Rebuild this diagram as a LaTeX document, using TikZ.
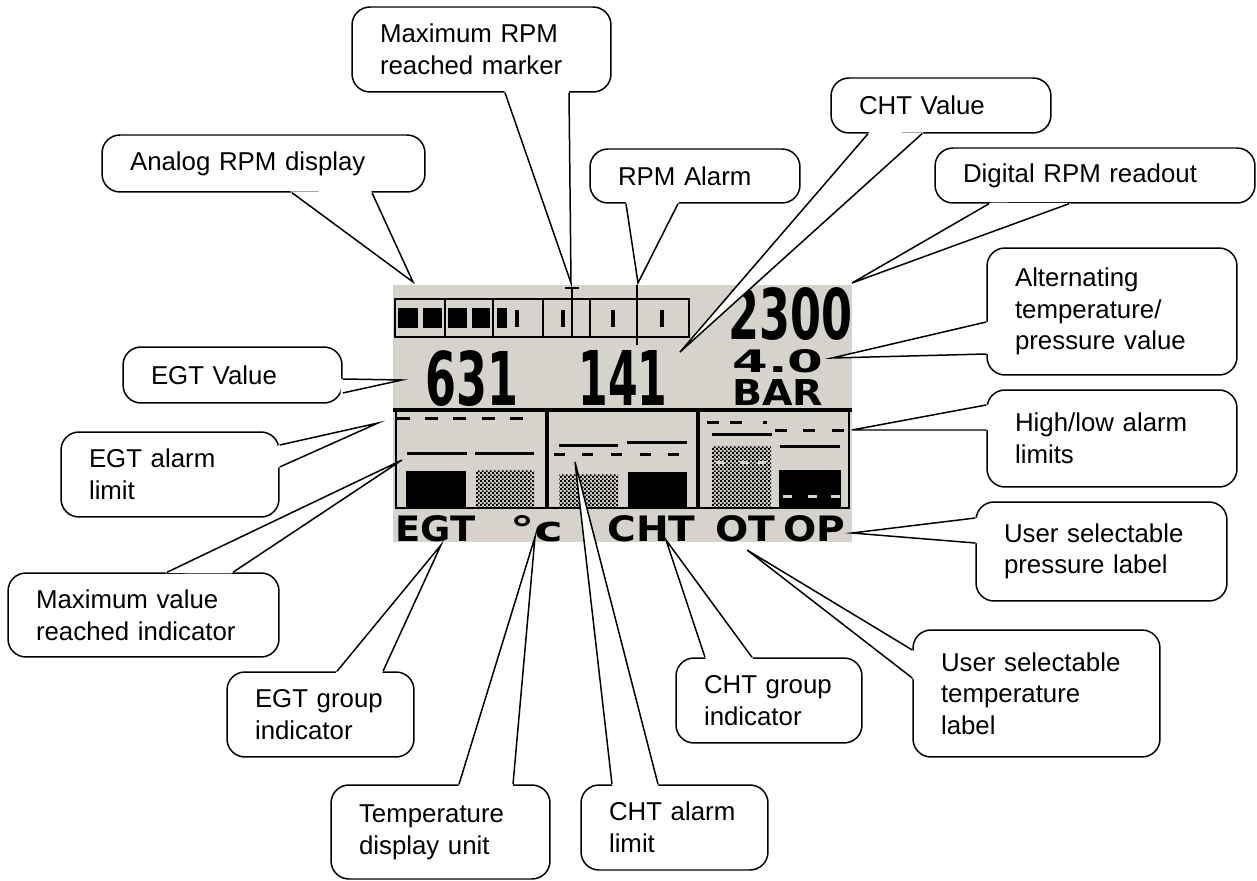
\documentclass[tikz,border=0pt]{standalone}
\usepackage{fontspec}
\usepackage{graphicx}
\setmainfont{Liberation Sans}
\newfontfamily\lcdfont{DejaVu Sans}
\usetikzlibrary{calc, patterns}

\definecolor{lcdgrey}{RGB}{214,211,204}

\pgfdeclarepatternformonly{lcdcheck}{\pgfpointorigin}{\pgfqpoint{2.4pt}{2.4pt}}{\pgfqpoint{2.4pt}{2.4pt}}{%
  \pgfpathrectangle{\pgfpointorigin}{\pgfqpoint{1.2pt}{1.2pt}}%
  \pgfpathrectangle{\pgfqpoint{1.2pt}{1.2pt}}{\pgfqpoint{1.2pt}{1.2pt}}%
  \pgfusepath{fill}}

\newcommand{\lcdtext}[3]{\resizebox{#1}{#2}{\lcdfont\bfseries #3}}
\newcommand{\calltail}[3]{%
  \fill[white] ($(#1)!-1.2pt!(#2)$) -- (#2) -- ($(#3)!-1.2pt!(#2)$) -- cycle;
  \draw[line width=0.85pt] (#1) -- (#2) -- (#3);}

\begin{document}
\begin{tikzpicture}[x=0.02cm, y=-0.02cm,
    bubble/.style={draw, line width=0.85pt, fill=white, rounded corners=0.36cm,
      inner xsep=0.56cm, inner ysep=0pt, align=left,
      font=\fontsize{14.7}{18}\selectfont},
    lcd/.style={line width=1.5pt},
    lcdtxt/.style={anchor=north west, inner sep=0pt}]
    \def\top{285}
    \def\bot{542}

    \useasboundingbox (0,0) rectangle (1257,881);

    % LCD screen
    \fill[lcdgrey] (393,\top) rectangle (852,\bot);

    \draw[lcd] (395,299) rectangle (689,337);
    \foreach \x in {445,493,543,590} \draw[lcd] (\x,299) -- (\x,337);
    \draw[lcd] (637,\top) -- (637,345);
    \draw[lcd] (565,288) -- (579,288);
    \draw[lcd] (572,288) -- (572,337);
    \foreach \a/\b in {398/418, 423/442, 448/467, 472/490, 497/507}
        \fill (\a,308) rectangle (\b,328);
    \foreach \x in {517,563,613,662} \fill (\x-2,310) rectangle (\x+2,327);

    \node[lcdtxt] (egtnum) at (425,350) {\lcdtext{1.86cm}{1.10cm}{631}};
    \node[lcdtxt] (chtnum) at (578,350) {\lcdtext{1.78cm}{1.10cm}{141}};
    \node[lcdtxt] (rpmnum) at (728,287) {\lcdtext{2.48cm}{1.04cm}{2300}};
    \node[lcdtxt] (presnum) at (732,349) {\lcdtext{1.82cm}{0.46cm}{4.0}};
    \node[lcdtxt] (presunit) at (732,379) {\lcdtext{1.82cm}{0.52cm}{BAR}};

    \fill (393,408) rectangle (852,412);
    \draw[lcd] (396,410) -- (396,508) -- (849,508) -- (849,410);
    \fill (545,410) rectangle (549,508);
    \fill (696,410) rectangle (700,508);

    % EGT bars
    \foreach \a in {397,425,453,482,510} \fill (\a,417) rectangle (\a+13,420);
    \fill (407,452) rectangle (467,455);
    \fill (475,452) rectangle (534,455);
    \fill (406,471) rectangle (466,508);
    \fill[pattern=lcdcheck] (476,471) rectangle (534,508);

    % CHT bars
    \fill (559,444) rectangle (618,447);
    \fill (627,441) rectangle (687,444);
    \foreach \a in {554,582,611,640,668} \fill (\a,453) rectangle (\a+11,456);
    \fill[pattern=lcdcheck] (559,475) rectangle (618,508);
    \fill (628,472) rectangle (687,508);

    % OT / OP bars
    \foreach \a in {707,730} \fill (\a,421) rectangle (\a+12,424);
    \fill (763,421) rectangle (767,424);
    \foreach \a in {775,803,832} \fill (\a,429) rectangle (\a+12,432);
    \fill (712,433) rectangle (772,436);
    \fill (780,445) rectangle (840,448);
    \fill[pattern=lcdcheck] (712,447) rectangle (771,508);
    \foreach \a in {716,740,758} \fill[lcdgrey] (\a,461) rectangle (\a+8,464);
    \fill (779,470) rectangle (841,508);
    \foreach \a in {783,808,831} \fill[lcdgrey] (\a,495) rectangle (\a+9,498);

    \node[lcdtxt] (egtlbl) at (395,515) {\lcdtext{1.60cm}{0.52cm}{EGT}};
    \node[lcdtxt] (unitlbl) at (510,515) {\lcdtext{1.06cm}{0.52cm}{°c}};
    \node[lcdtxt] (chtlbl) at (607,515) {\lcdtext{1.76cm}{0.52cm}{CHT}};
    \node[lcdtxt] (otlbl) at (715,515) {\lcdtext{1.20cm}{0.52cm}{OT}};
    \node[lcdtxt] (oplbl) at (783,515) {\lcdtext{1.24cm}{0.52cm}{OP}};

    % callouts
    \node[bubble, text width=5.34cm, minimum height=1.14cm] (analog) at (263.5,163.5) {Analog RPM display};
    \coordinate (analogA) at (analog.south -| 292,0);
    \coordinate (analogB) at (analog.south -| 372,0);
    \coordinate (analogtip) at (413,282);
    \calltail{analogA}{analogtip}{analogB}

    \node[bubble, text width=4.06cm, minimum height=1.70cm] (maxrpm) at (481.5,49.5) {Maximum RPM\\reached marker};
    \coordinate (maxrpmA) at (maxrpm.south -| 505,0);
    \coordinate (maxrpmB) at (maxrpm.south -| 569,0);
    \coordinate (maxrpmtip) at (571,283);
    \calltail{maxrpmA}{maxrpmtip}{maxrpmB}

    \node[bubble, text width=3.08cm, minimum height=1.08cm] (rpmalarm) at (695,176) {RPM Alarm};
    \coordinate (rpmalarmA) at (rpmalarm.south -| 626,0);
    \coordinate (rpmalarmB) at (rpmalarm.south -| 678,0);
    \coordinate (rpmalarmtip) at (638,283);
    \calltail{rpmalarmA}{rpmalarmtip}{rpmalarmB}

    \node[bubble, text width=3.28cm, minimum height=1.10cm] (chtval) at (941,105.5) {CHT Value};
    \coordinate (chtvalA) at (chtval.south -| 868,0);
    \coordinate (chtvalB) at (chtval.south -| 922,0);
    \coordinate (chtvaltip) at (680,352);
    \calltail{chtvalA}{chtvaltip}{chtvalB}

    \node[bubble, text width=5.28cm, minimum height=1.10cm] (digital) at (1095,175.5) {Digital RPM readout};
    \coordinate (digitalA) at (digital.south -| 989,0);
    \coordinate (digitalB) at (digital.south -| 1069,0);
    \coordinate (digitaltip) at (852,283);
    \calltail{digitalA}{digitaltip}{digitalB}

    \node[bubble, text width=3.88cm, minimum height=2.54cm] (altern) at (1112,311.5) {Alternating\\temperature/\\pressure value};
    \coordinate (alternA) at (altern.west |- 0,322);
    \coordinate (alternB) at (altern.west |- 0,354);
    \coordinate (alterntip) at (832,358);
    \calltail{alternA}{alterntip}{alternB}

    \node[bubble, text width=3.88cm, minimum height=1.94cm] (highlow) at (1112,438.5) {High/low alarm\\limits};
    \coordinate (highlowA) at (highlow.west |- 0,405);
    \coordinate (highlowB) at (highlow.west |- 0,430);
    \coordinate (highlowtip) at (852,430);
    \calltail{highlowA}{highlowtip}{highlowB}

    \node[bubble, text width=3.90cm, minimum height=1.98cm] (userpres) at (1101.5,551.5) {User selectable\\pressure label};
    \coordinate (userpresA) at (userpres.west |- 0,518);
    \coordinate (userpresB) at (userpres.west |- 0,543);
    \coordinate (userprestip) at (852,533);
    \calltail{userpresA}{userprestip}{userpresB}

    \node[bubble, text width=3.26cm, minimum height=1.12cm] (egtval) at (232.5,375) {EGT Value};
    \coordinate (egtvalA) at (egtval.east |- 0,379);
    \coordinate (egtvalB) at (egtval.east |- 0,393);
    \coordinate (egtvaltip) at (402,380);
    \calltail{egtvalA}{egtvaltip}{egtvalB}

    \node[bubble, text width=3.24cm, minimum height=1.70cm] (egtalarm) at (170,474.5) {EGT alarm\\limit};
    \coordinate (egtalarmA) at (egtalarm.east |- 0,445);
    \coordinate (egtalarmB) at (egtalarm.east |- 0,467);
    \coordinate (egtalarmtip) at (378,423);
    \calltail{egtalarmA}{egtalarmtip}{egtalarmB}

    \node[bubble, text width=4.30cm, minimum height=1.68cm] (maxval) at (143.5,615) {Maximum value\\reached indicator};
    \coordinate (maxvalA) at (maxval.north -| 167,0);
    \coordinate (maxvalB) at (maxval.north -| 233,0);
    \coordinate (maxvaltip) at (402,460);
    \calltail{maxvalA}{maxvaltip}{maxvalB}

    \node[bubble, text width=2.62cm, minimum height=1.70cm] (egtgroup) at (320.5,714.5) {EGT group\\indicator};
    \coordinate (egtgroupA) at (egtgroup.north -| 337,0);
    \coordinate (egtgroupB) at (egtgroup.north -| 383,0);
    \coordinate (egtgrouptip) at (441,545);
    \calltail{egtgroupA}{egtgrouptip}{egtgroupB}

    \node[bubble, text width=3.26cm, minimum height=1.88cm] (tempunit) at (440.5,832) {Temperature\\display unit};
    \coordinate (tempunitA) at (tempunit.north -| 459,0);
    \coordinate (tempunitB) at (tempunit.north -| 513,0);
    \coordinate (tempunittip) at (535,537);
    \calltail{tempunitA}{tempunittip}{tempunitB}

    \node[bubble, text width=2.62cm, minimum height=1.70cm] (chtalarm) at (674.5,827.5) {CHT alarm\\limit};
    \coordinate (chtalarmA) at (chtalarm.north -| 612,0);
    \coordinate (chtalarmB) at (chtalarm.north -| 658,0);
    \coordinate (chtalarmtip) at (575,462);
    \calltail{chtalarmA}{chtalarmtip}{chtalarmB}

    \node[bubble, text width=2.60cm, minimum height=1.70cm] (chtgroup) at (769,700.5) {CHT group\\indicator};
    \coordinate (chtgroupA) at (chtgroup.north -| 705,0);
    \coordinate (chtgroupB) at (chtgroup.north -| 752,0);
    \coordinate (chtgrouptip) at (666,540);
    \calltail{chtgroupA}{chtgrouptip}{chtgroupB}

    \node[bubble, text width=3.82cm, minimum height=2.54cm] (usertemp) at (1036.5,693.5) {User selectable\\temperature\\label};
    \coordinate (usertempA) at (usertemp.west |- 0,650);
    \coordinate (usertempB) at (usertemp.west |- 0,678);
    \coordinate (usertemptip) at (747,550);
    \calltail{usertempA}{usertemptip}{usertempB}

\end{tikzpicture}
\end{document}
